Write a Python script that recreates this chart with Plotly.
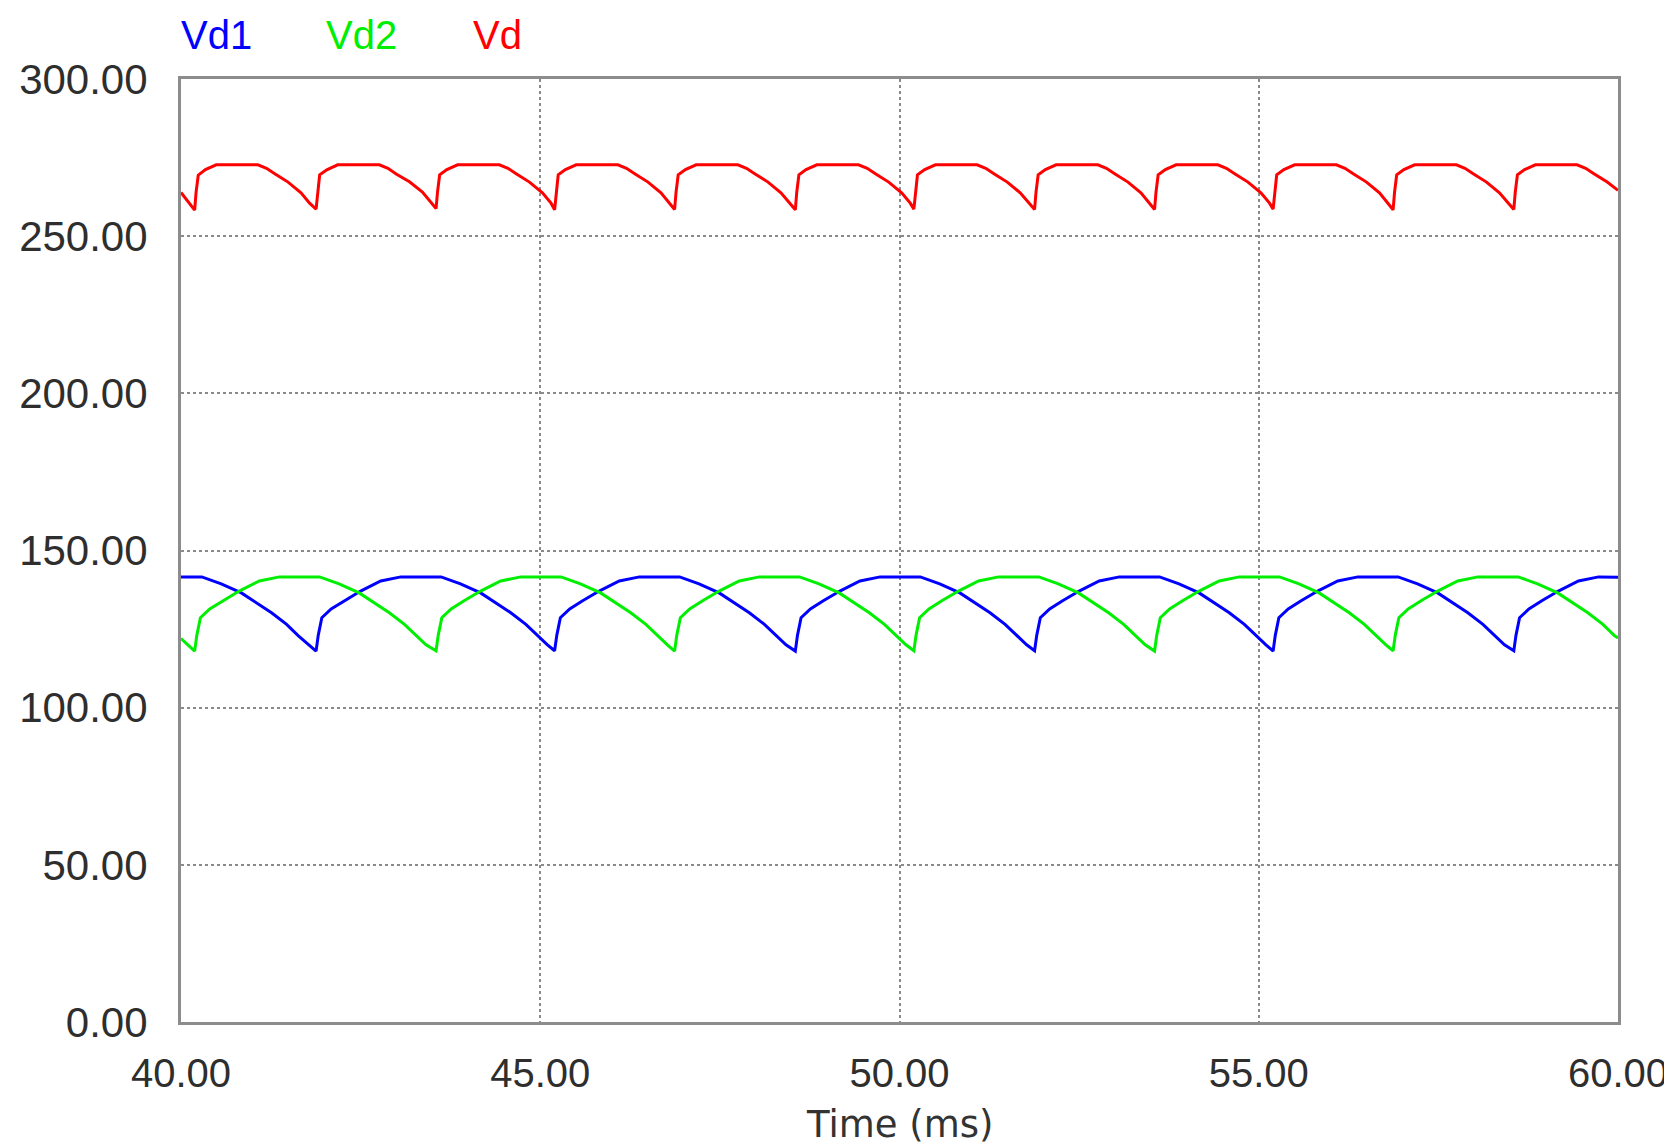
import plotly.graph_objects as go

# ---------------- data ----------------
# Vd (red) : time in ms, value in V
vd_t = [40.00, 40.12,
        40.19, 40.21, 40.24, 40.34, 40.49, 41.07, 41.19, 41.31, 41.49, 41.67, 41.79,
        41.88, 41.90, 41.93, 42.03, 42.18, 42.76, 42.88, 43.00, 43.18, 43.36, 43.48,
        43.55, 43.57, 43.60, 43.70, 43.85, 44.43, 44.55, 44.67, 44.85, 45.03, 45.15,
        45.20, 45.22, 45.25, 45.35, 45.50, 46.08, 46.20, 46.32, 46.50, 46.68, 46.80,
        46.87, 46.89, 46.92, 47.02, 47.17, 47.75, 47.87, 47.99, 48.17, 48.35, 48.47,
        48.55, 48.57, 48.60, 48.70, 48.85, 49.43, 49.55, 49.67, 49.85, 50.03, 50.15,
        50.20, 50.22, 50.25, 50.35, 50.50, 51.08, 51.20, 51.32, 51.50, 51.68, 51.80,
        51.88, 51.90, 51.93, 52.03, 52.18, 52.76, 52.88, 53.00, 53.18, 53.36, 53.48,
        53.55, 53.57, 53.60, 53.70, 53.85, 54.43, 54.55, 54.67, 54.85, 55.03, 55.15,
        55.20, 55.22, 55.25, 55.35, 55.50, 56.08, 56.20, 56.32, 56.50, 56.68, 56.80,
        56.87, 56.89, 56.92, 57.02, 57.17, 57.75, 57.87, 57.99, 58.17, 58.35, 58.47,
        58.55, 58.57, 58.60, 58.70, 58.85, 59.43, 59.55, 59.67, 59.85, 60.00]
vd_v = [263.9, 260.6,
        258.3, 264.0, 269.4, 271.2, 272.7, 272.7, 271.6, 269.8, 267.2, 263.8, 260.5,
        258.6, 264.0, 269.5, 271.1, 272.7, 272.7, 271.6, 269.7, 267.3, 264.0, 260.6,
        258.8, 264.0, 269.5, 271.2, 272.7, 272.7, 271.6, 269.8, 267.2, 263.8, 260.5,
        258.4, 264.0, 269.5, 271.2, 272.7, 272.7, 271.6, 269.8, 267.2, 263.8, 260.5,
        258.5, 264.0, 269.5, 271.2, 272.7, 272.7, 271.6, 269.8, 267.2, 263.8, 260.5,
        258.4, 264.0, 269.5, 271.2, 272.7, 272.7, 271.6, 269.8, 267.2, 263.8, 260.5,
        258.6, 264.0, 269.5, 271.2, 272.7, 272.7, 271.6, 269.8, 267.2, 263.8, 260.5,
        258.5, 264.0, 269.5, 271.2, 272.7, 272.7, 271.6, 269.8, 267.2, 263.8, 260.5,
        258.5, 264.0, 269.5, 271.2, 272.7, 272.7, 271.6, 269.8, 267.2, 263.8, 260.5,
        258.6, 264.0, 269.5, 271.2, 272.7, 272.7, 271.6, 269.8, 267.2, 263.8, 260.5,
        258.4, 264.0, 269.5, 271.2, 272.7, 272.7, 271.6, 269.8, 267.2, 263.8, 260.5,
        258.5, 264.0, 269.5, 271.2, 272.7, 272.7, 271.6, 269.8, 267.2, 264.6]

# Vd1 (blue)
vd1_t = [40.00, 40.29, 40.56, 40.84, 41.26, 41.47, 41.63, 41.77,
         41.88, 41.91, 41.96, 42.09, 42.27, 42.50, 42.78, 43.06, 43.62, 43.89, 44.17, 44.59, 44.80, 44.96, 45.10,
         45.20, 45.23, 45.28, 45.41, 45.59, 45.82, 46.10, 46.38, 46.94, 47.21, 47.49, 47.91, 48.12, 48.28, 48.42,
         48.55, 48.58, 48.63, 48.76, 48.94, 49.17, 49.45, 49.73, 50.29, 50.56, 50.84, 51.26, 51.47, 51.63, 51.77,
         51.88, 51.91, 51.96, 52.09, 52.27, 52.50, 52.78, 53.06, 53.62, 53.89, 54.17, 54.59, 54.80, 54.96, 55.10,
         55.20, 55.23, 55.28, 55.41, 55.59, 55.82, 56.10, 56.38, 56.94, 57.21, 57.49, 57.91, 58.12, 58.28, 58.42,
         58.55, 58.58, 58.63, 58.76, 58.94, 59.17, 59.45, 59.73, 60.00]
vd1_v = [141.6, 141.6, 139.4, 136.5, 130.2, 126.5, 122.9, 120.0,
         118.0, 123.0, 128.6, 131.4, 134.0, 137.1, 140.3, 141.6, 141.6, 139.4, 136.5, 130.2, 126.5, 122.9, 120.0,
         118.1, 123.0, 128.6, 131.4, 134.0, 137.1, 140.3, 141.6, 141.6, 139.4, 136.5, 130.2, 126.5, 122.9, 120.0,
         118.0, 123.0, 128.6, 131.4, 134.0, 137.1, 140.3, 141.6, 141.6, 139.4, 136.5, 130.2, 126.5, 122.9, 120.0,
         118.1, 123.0, 128.6, 131.4, 134.0, 137.1, 140.3, 141.6, 141.6, 139.4, 136.5, 130.2, 126.5, 122.9, 120.0,
         118.0, 123.0, 128.6, 131.4, 134.0, 137.1, 140.3, 141.6, 141.6, 139.4, 136.5, 130.2, 126.5, 122.9, 120.0,
         118.1, 123.0, 128.6, 131.4, 134.0, 137.1, 140.3, 141.6, 141.5]

# Vd2 (green)
vd2_t = [40.00, 40.10,
         40.19, 40.22, 40.27, 40.40, 40.58, 40.81, 41.09, 41.37, 41.93, 42.20, 42.48, 42.90, 43.11, 43.27, 43.41,
         43.55, 43.58, 43.63, 43.76, 43.94, 44.17, 44.45, 44.73, 45.29, 45.56, 45.84, 46.26, 46.47, 46.63, 46.77,
         46.87, 46.90, 46.95, 47.08, 47.26, 47.49, 47.77, 48.05, 48.61, 48.88, 49.16, 49.58, 49.79, 49.95, 50.09,
         50.20, 50.23, 50.28, 50.41, 50.59, 50.82, 51.10, 51.38, 51.94, 52.21, 52.49, 52.91, 53.12, 53.28, 53.42,
         53.55, 53.58, 53.63, 53.76, 53.94, 54.17, 54.45, 54.73, 55.29, 55.56, 55.84, 56.26, 56.47, 56.63, 56.77,
         56.87, 56.90, 56.95, 57.08, 57.26, 57.49, 57.77, 58.05, 58.61, 58.88, 59.16, 59.58, 59.79, 59.95, 60.00]
vd2_v = [122.0, 120.0,
         118.0, 123.0, 128.6, 131.4, 134.0, 137.1, 140.3, 141.6, 141.6, 139.4, 136.5, 130.2, 126.5, 122.9, 120.0,
         118.1, 123.0, 128.6, 131.4, 134.0, 137.1, 140.3, 141.6, 141.6, 139.4, 136.5, 130.2, 126.5, 122.9, 120.0,
         118.0, 123.0, 128.6, 131.4, 134.0, 137.1, 140.3, 141.6, 141.6, 139.4, 136.5, 130.2, 126.5, 122.9, 120.0,
         118.1, 123.0, 128.6, 131.4, 134.0, 137.1, 140.3, 141.6, 141.6, 139.4, 136.5, 130.2, 126.5, 122.9, 120.0,
         118.0, 123.0, 128.6, 131.4, 134.0, 137.1, 140.3, 141.6, 141.6, 139.4, 136.5, 130.2, 126.5, 122.9, 120.0,
         118.1, 123.0, 128.6, 131.4, 134.0, 137.1, 140.3, 141.6, 141.6, 139.4, 136.5, 130.2, 126.5, 122.9, 122.2]

x_ticks = [40, 45, 50, 55, 60]
x_ticktext = ["40.00", "45.00", "50.00", "55.00", "60.00"]
y_ticks = [0, 50, 100, 150, 200, 250, 300]
y_ticktext = ["0.00", "50.00", "100.00", "150.00", "200.00", "250.00", "300.00"]

series_names = ["Vd1", "Vd2", "Vd"]
series_colors = ["#0000ff", "#00ee00", "#ff0000"]

# ---------------- figure ----------------
fig = go.Figure()
for name, t, v, c in [("Vd1", vd1_t, vd1_v, series_colors[0]),
                      ("Vd2", vd2_t, vd2_v, series_colors[1]),
                      ("Vd", vd_t, vd_v, series_colors[2])]:
    fig.add_trace(go.Scatter(x=t, y=v, mode="lines", name=name,
                             line=dict(color=c, width=3), showlegend=False))

tick_font = dict(family="Liberation Sans, Arial, sans-serif", size=42, color="#2e2e2e")

# the page body has an 8 px margin, so the figure is 8 px smaller than the window
fig.update_layout(
    width=1664, height=1139,
    margin=dict(l=173, r=54, t=71, b=125),
    paper_bgcolor="white", plot_bgcolor="white",
    xaxis=dict(range=[40, 60], tickvals=x_ticks, ticktext=x_ticktext,
               showgrid=True, gridcolor="#8a8a8a", griddash="dot", gridwidth=2,
               showline=True, linecolor="#8c8c8c", linewidth=3, mirror=True,
               ticks="", zeroline=False, tickfont=dict(tick_font, size=40),
               ticklabelstandoff=14, automargin=False),
    yaxis=dict(range=[0, 300], tickvals=y_ticks, ticktext=y_ticktext,
               showgrid=True, gridcolor="#8a8a8a", griddash="dot", gridwidth=2,
               showline=True, linecolor="#8c8c8c", linewidth=3, mirror=True,
               ticks="", zeroline=False, tickfont=tick_font,
               ticklabelstandoff=22, automargin=False),
)

# axis title
fig.add_annotation(text="Time (ms)", xref="paper", yref="paper", x=0.5, y=-0.134,
                   xanchor="center", yanchor="bottom", showarrow=False,
                   font=dict(family="DejaVu Sans, Verdana, sans-serif", size=37, color="#333333"))

# series labels at top-left
label_x = [-0.0014, 0.0994, 0.2017]
for name, c, lx in zip(series_names, series_colors, label_x):
    fig.add_annotation(text=name, xref="paper", yref="paper", x=lx, y=1.047,
                       xanchor="left", yanchor="middle", showarrow=False,
                       font=dict(family="Liberation Sans, Arial, sans-serif", size=40, color=c))

fig.write_html("out.html")
